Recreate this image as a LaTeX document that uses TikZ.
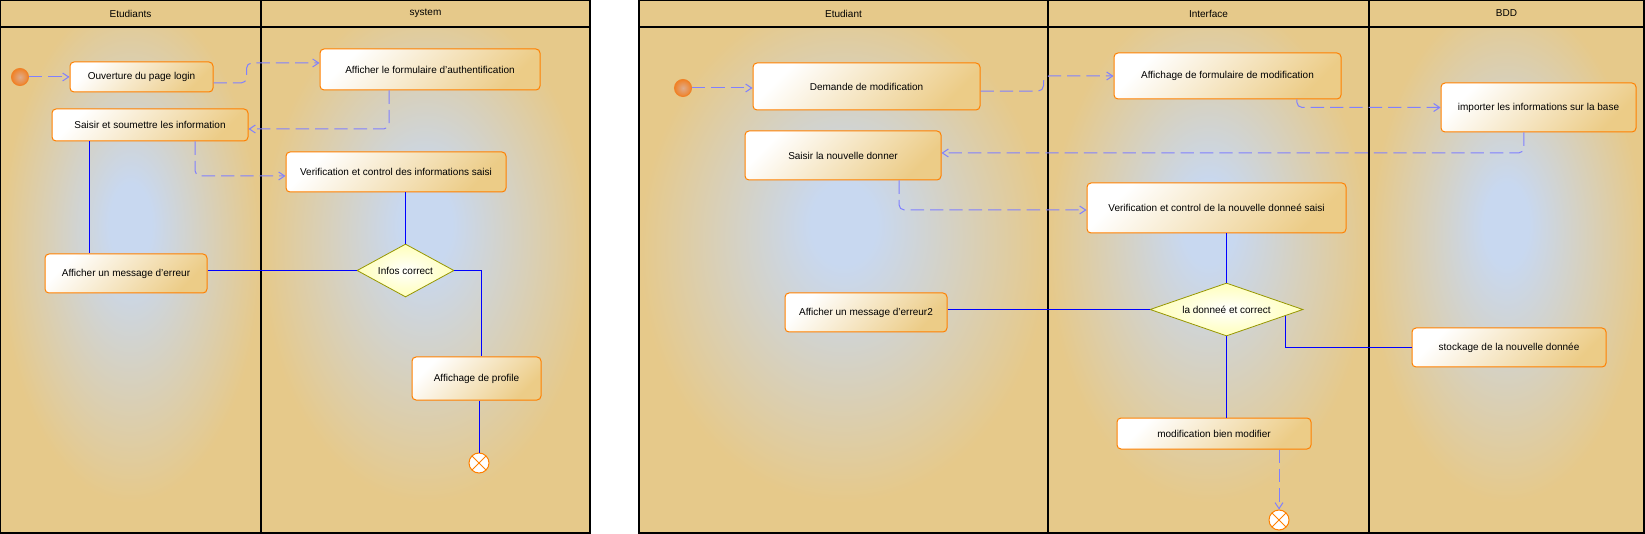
\documentclass[tikz,border=0pt]{standalone}
\usepackage{fontspec}
\setmainfont{Liberation Sans}
\usepackage{tikz}
\usetikzlibrary{shapes.geometric,arrows.meta,positioning}
\definecolor{lanetan}{RGB}{230,201,138}
\definecolor{laneblue}{RGB}{200,216,240}
\definecolor{boxtan}{RGB}{236,204,135}
\definecolor{boxorange}{RGB}{255,128,0}
\definecolor{msgblue}{RGB}{128,128,255}
\definecolor{flowblue}{RGB}{0,0,255}
\definecolor{diayellow}{RGB}{255,255,185}
\definecolor{diaolive}{RGB}{150,150,0}
\definecolor{startin}{RGB}{222,172,140}
\definecolor{startout}{RGB}{240,130,40}
\pgfdeclareradialshading{lanefill}{\pgfpoint{0bp}{6bp}}{color(0bp)=(laneblue); color(4bp)=(laneblue); color(25bp)=(lanetan); color(50bp)=(lanetan)}
\tikzset{
    lane-line/.style = {draw=black, line width=0.9pt},
    lane-title/.style = {font=\fontsize{7.5}{9}\selectfont, inner sep=0pt},
    act-box/.style = {draw=boxorange, line width=0.75pt, rectangle, rounded corners=3pt, top color=white, bottom color=boxtan, shading angle=45, font=\fontsize{7.5}{9}\selectfont, inner sep=2pt, align=center},
    decision/.style = {draw=diaolive, line width=0.6pt, diamond, inner sep=0pt, inner color=white, outer color=diayellow, font=\fontsize{7.5}{9}\selectfont},
    start-node/.style = {circle, draw=startout, line width=0.75pt, inner color=startin, outer color=startout, minimum size=12.75pt, inner sep=0pt},
    end-node/.style = {circle, draw=boxorange, line width=0.75pt, fill=white, minimum size=15pt, inner sep=0pt, path picture={\draw[boxorange, line width=0.75pt] (path picture bounding box.north west) -- (path picture bounding box.south east) (path picture bounding box.north east) -- (path picture bounding box.south west);}},
    flow/.style = {draw=flowblue, line width=0.75pt},
    msg/.style = {draw=msgblue, line width=0.75pt, dash pattern=on 10pt off 4.5pt, rounded corners=4pt, -{Straight Barb[length=4.5pt,width=6pt]}},
}
\begin{document}
\begin{tikzpicture}[x=0.75pt, y=-0.75pt]
\useasboundingbox (0,0) rectangle (1645,534);
\fill[white] (0,0) rectangle (1645,534);

\fill[lanetan] (0,0) rectangle (590,27);
\shade[shading=lanefill] (0,27) rectangle (261,533);
\shade[shading=lanefill] (261,27) rectangle (590,533);
\draw[lane-line] (0,0) rectangle (590,533);
\draw[lane-line] (0,27) -- (590,27);
\draw[lane-line] (261,0) -- (261,533);
\node[lane-title] at (130.5,13.5) {Etudiants};
\node[lane-title] at (425.5,13.5) {system};

\fill[lanetan] (639,0) rectangle (1644,27);
\shade[shading=lanefill] (639,27) rectangle (1048,533);
\shade[shading=lanefill] (1048,27) rectangle (1369,533);
\shade[shading=lanefill] (1369,27) rectangle (1644,533);
\draw[lane-line] (639,0) rectangle (1644,533);
\draw[lane-line] (639,27) -- (1644,27);
\draw[lane-line] (1048,0) -- (1048,533);
\draw[lane-line] (1369,0) -- (1369,533);
\node[lane-title] at (843.5,13.5) {Etudiant};
\node[lane-title] at (1208.5,13.5) {Interface};
\node[lane-title] at (1506.5,13.5) {BDD};

\node[start-node] (init1) at (20,77) {};
\node[act-box, minimum width=107.25pt, minimum height=22.5pt] (ouverture) at (141.5,77) {Ouverture du page login};
\node[act-box, minimum width=165pt, minimum height=30.75pt] (formulaire) at (430,69.5) {Afficher le formulaire d'authentification};
\node[act-box, minimum width=147pt, minimum height=24pt] (saisir) at (150,125) {Saisir et soumettre les information};
\node[act-box, minimum width=165pt, minimum height=30pt] (verification) at (396,172) {Verification et control des informations saisi};
\node[decision, shape aspect=1.8, minimum width=72.75pt, minimum height=39.75pt] (infos) at (405.5,270.5) {Infos correct};
\node[act-box, minimum width=121.5pt, minimum height=29.25pt] (erreur) at (126,273.5) {Afficher un message d'erreur};
\node[act-box, minimum width=96.75pt, minimum height=32.25pt] (profile) at (476.5,378.5) {Affichage de profile};
\node[end-node] (fin1) at (479,463) {};

\draw[msg] (init1) -- (ouverture);
\draw[msg] ([yshift=-4.5pt]ouverture.east) -- ++(24.75pt,0) |- ([yshift=4.9pt]formulaire.west);
\draw[msg] ([xshift=-30.75pt]formulaire.south) |- ([yshift=-3pt]saisir.east);
\draw[msg] ([xshift=33.75pt]saisir.south) |- ([yshift=-3pt]verification.west);
\draw[flow] ([xshift=-45.75pt]saisir.south) -- ([xshift=-27.75pt]erreur.north);
\draw[flow] (verification.south -| infos.north) -- (infos.north);
\draw[flow] (erreur.east |- infos.west) -- (infos.west);
\draw[flow] (infos.east) -| ([xshift=3.75pt]profile.north);
\draw[flow] (profile.south -| fin1.north) -- (fin1.north);

\node[start-node] (init2) at (683,88) {};
\node[act-box, minimum width=170.25pt, minimum height=35.25pt] (demande) at (866.5,86.5) {Demande de modification};
\node[act-box, minimum width=170.25pt, minimum height=34.5pt] (affichage) at (1227.5,76) {Affichage de formulaire de modification};
\node[act-box, minimum width=146.25pt, minimum height=36.75pt] (importer) at (1538.5,107.5) {importer les informations sur la base};
\node[act-box, minimum width=147pt, minimum height=36.75pt] (saisir2) at (843,155.5) {Saisir la nouvelle donner};
\node[act-box, minimum width=194.25pt, minimum height=37.5pt] (verification2) at (1216.5,208) {Verification et control de la nouvelle donneé saisi};
\node[decision, shape aspect=2.9, minimum width=114.75pt, minimum height=39.75pt] (correct) at (1226.5,309.5) {la donneé et correct};
\node[act-box, minimum width=121.5pt, minimum height=29.25pt] (erreur2) at (866,312.5) {Afficher un message d'erreur2};
\node[act-box, minimum width=145.5pt, minimum height=29.25pt] (stockage) at (1509,347.5) {stockage de la nouvelle donnée};
\node[act-box, minimum width=145.5pt, minimum height=23.25pt] (modification) at (1214,433.5) {modification bien modifier};
\node[end-node] (fin2) at (1279,520) {};

\draw[msg] (init2) -- (init2 -| demande.west);
\draw[msg] ([yshift=-3.4pt]demande.east) -- ++(47.25pt,0) |- (affichage.west);
\draw[msg] ([xshift=52pt]affichage.south) |- (importer.west);
\draw[msg] ([xshift=-10.9pt]importer.south) |- ([yshift=1.9pt]saisir2.east);
\draw[msg] ([xshift=42pt]saisir2.south) |- ([yshift=-1.5pt]verification2.west);
\draw[flow] (verification2.south -| correct.north) -- (correct.north);
\draw[flow] (erreur2.east |- correct.west) -- (correct.west);
\draw[flow] (correct.-6) |- (stockage.west);
\draw[flow] (correct.south) -- (correct.south |- modification.north);
\draw[msg] (modification.south -| fin2.north) -- (fin2.north);
\end{tikzpicture}
\end{document}
